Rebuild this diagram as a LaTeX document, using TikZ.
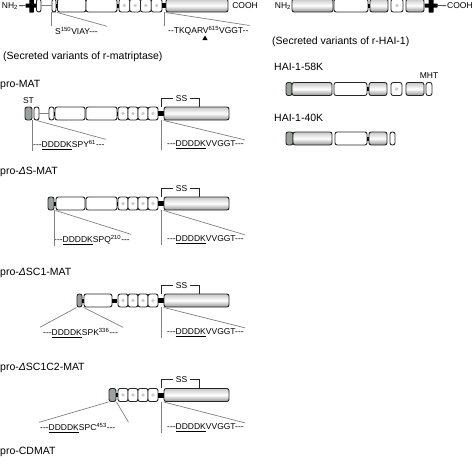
\documentclass[tikz,border=0pt]{standalone}
\usepackage{fontspec}
\setmainfont{Liberation Sans}
\usetikzlibrary{positioning, shapes.geometric}
\definecolor{tagcol}{HTML}{98A39A}
\definecolor{pointercol}{HTML}{808080}
\tikzset{
every node/.style = {font = \fontsize{8.5}{10}\selectfont, inner sep = 1pt},
dombox/.style = {rectangle, draw = black!85, rounded corners = 2.2pt, line width = 0.9pt, 
	inner sep = 0pt, minimum height = 13pt, fill = white},
shadebox/.style = {rectangle, draw = black!85, rounded corners = 2.2pt, line width = 0.9pt, 
	inner sep = 0pt, minimum height = 13pt, top color = black!22, bottom color = black!42, 
	middle color = white},
ldlbox/.style = {dombox, minimum width = 10pt, path picture = {\fill [black!20] 
	([shift = {(-1.7pt, -1.7pt)}]path picture bounding box.center) rectangle 
	([shift = {(1.7pt, 1.7pt)}]path picture bounding box.center);}},
tagbox/.style = {dombox, fill = tagcol},
joint/.style = {rectangle, fill = black, inner sep = 0pt, minimum width = 2pt, 
	minimum height = 4pt},
tmbar/.style = {rectangle, fill = black, rounded corners = 0.5pt, inner sep = 0pt},
pointer/.style = {draw = pointercol, line width = 0.7pt},
linker/.style = {draw = pointercol, line width = 0.8pt},
bracket/.style = {draw = black!85, line width = 0.7pt},
heading/.style = {anchor = west, inner sep = 0pt, font = \fontsize{10.5}{12}\selectfont},
sequence/.style = {anchor = west, inner sep = 1pt},
sslabel/.style = {inner sep = 3pt},
cleave/.style = {regular polygon, regular polygon sides = 3, fill = black, 
	inner sep = 0pt, minimum size = 6pt}
}

\begin{document}
\begin{tikzpicture}[x = 1pt, y = -1pt]

\useasboundingbox (0, 0) rectangle (474, 474);

%% Membrane-bound matriptase
\node at (10, 6) (nh2L) {NH\textsubscript{2}};
\node at (31.5, 5.5) [tmbar, minimum width = 12pt, minimum height = 4pt] (tmLh) {};
\node at (31.5, 5.5) [tmbar, minimum width = 4.5pt, minimum height = 14pt] (tmLv) {};
\node at (38.75, 5.5) [dombox, minimum width = 4.5pt] (seaL) {};
\node at (54, 5.5) [dombox, minimum width = 4pt] (s2L) {};
\node at (56.75, 5.5) [joint, minimum width = 1.5pt] (jL1) {};
\node at (71.75, 5.5) [dombox, minimum width = 28.5pt] (cub1L) {};
\node at (101.5, 5.5) [dombox, minimum width = 31pt] (cub2L) {};
\node at (118, 5.5) [joint, minimum width = 2pt] (jL2) {};
\node at (124.4, 5.5) [ldlbox, minimum width = 10.75pt] (ldl1L) {};
\node at (135.1, 5.5) [ldlbox, minimum width = 10.75pt] (ldl2L) {};
\node at (145.9, 5.5) [ldlbox, minimum width = 10.75pt] (ldl3L) {};
\node at (156.6, 5.5) [ldlbox, minimum width = 10.75pt] (ldl4L) {};
\node at (164, 5.5) [joint, minimum width = 4pt, minimum height = 5pt] (jL3) {};
\node at (197, 5.5) [shadebox, minimum width = 62pt] (protL) {};
\node at (245, 6) (coohL) {COOH};
\draw [line width = 0.6pt] (nh2L) -- (tmLh);
\draw [linker] (seaL) -- (s2L);

% Cleavage sites
\node at (54, 31) [sequence] (seqS) {S\textsuperscript{150}VIAY-{}-{}-};
\draw [pointer] (s2L.south west) -- (s2L.south west |- seqS.north);
\draw [pointer] (cub1L.south west) -- ([xshift = 8pt]seqS.north east);
\node at (167, 31) [sequence] (seqT) {-{}-TKQARV\textsuperscript{615}VGGT-{}-};
\draw [pointer] (jL3 |- protL.south) -- (jL3 |- seqT.north);
\draw [pointer] (protL.south west) -- (seqT.north east);
\node at (205, 38.5) [cleave] (cut) {};

%% Membrane-bound HAI-1
\node at (283, 6) (nh2R) {NH\textsubscript{2}};
\node at (312.5, 5.5) [shadebox, minimum width = 41pt] (h1R) {};
\node at (351, 5.5) [dombox, minimum width = 34pt] (h2R) {};
\node at (369, 5.5) [joint] (jR1) {};
\node at (379, 5.5) [shadebox, minimum width = 18pt] (h3R) {};
\node at (397, 5.5) [ldlbox, minimum width = 12pt] (h4R) {};
\node at (415, 5.5) [shadebox, minimum width = 18pt] (h5R) {};
\node at (431, 5.5) [tmbar, minimum width = 13pt, minimum height = 4pt] (tmRh) {};
\node at (431, 5.5) [tmbar, minimum width = 5pt, minimum height = 14pt] (tmRv) {};
\node at (446, 6) [anchor = west] (coohR) {COOH};
\draw [line width = 0.6pt] (tmRh) -- (coohR);

%% Headings
\node at (3, 57) [heading] (headMAT) {(Secreted variants of r-matriptase)};
\node at (272, 42) [heading] (headHAI) {(Secreted variants of r-HAI-1)};
\node at (0, 85) [heading] (nameA) {pro-MAT};
\node at (0, 172) [heading] (nameB) {pro-{\itshape Δ}S-MAT};
\node at (0, 273) [heading] (nameC) {pro-{\itshape Δ}SC1-MAT};
\node at (0, 368) [heading] (nameD) {pro-{\itshape Δ}SC1C2-MAT};
\node at (0, 452) [heading] (nameE) {pro-CDMAT};
\node at (274, 67) [heading] (name58) {HAI-1-58K};
\node at (274, 118) [heading] (name40) {HAI-1-40K};

%% pro-MAT
\node at (28.5, 113.5) [tagbox, minimum width = 7pt] (stA) {};
\node [above = 1.5pt of stA] (stlabel) {ST};
\node at (36.5, 113.5) [dombox, minimum width = 5pt] (s1A) {};
\node at (51.5, 113.5) [dombox, minimum width = 5pt] (s2A) {};
\node at (54.75, 113.5) [joint, minimum width = 1.5pt] (jA1) {};
\node at (70, 113.5) [dombox, minimum width = 30pt] (c1A) {};
\node at (101.5, 113.5) [dombox, minimum width = 31pt] (c2A) {};
\node at (117.5, 113.5) [joint, minimum width = 1.5pt] (jA2) {};
\node at (123, 113.5) [ldlbox] (lA1) {};
\node at (133, 113.5) [ldlbox] (lA2) {};
\node at (143, 113.5) [ldlbox] (lA3) {};
\node at (153, 113.5) [ldlbox] (lA4) {};
\node at (161, 113.5) [joint, minimum width = 6pt, minimum height = 5pt] (jA3) {};
\node at (196.5, 113.5) [shadebox, minimum width = 65pt] (prA) {};
\draw [linker] (s1A) -- (s2A);
\node at (181.5, 98.5) [sslabel] (ssA) {SS};
\draw [bracket] (jA3 |- prA.north) |- (ssA.west);
\draw [bracket] (ssA.east) -| ([xshift = 36pt]prA.north west);
\node at (32, 145) [sequence] (seqA1) {-{}-{}-\underline{DDDDK}SPY\textsuperscript{61}-{}-{}-};
\draw [pointer] (stA.south east) -- (stA.south east |- seqA1.south);
\draw [pointer] (s1A.south) -- (seqA1.north east);
\node at (166, 145) [sequence] (seqA2) {-{}-{}-\underline{DDDDK}VVGGT-{}-{}-};
\draw [pointer] (jA3 |- prA.south) -- (jA3 |- seqA2.south);
\draw [pointer] (prA.south west) -- (seqA2.north east);

%% pro-dS-MAT
\node at (51, 203.5) [tagbox, minimum width = 6pt] (stB) {};
\node at (55, 203.5) [joint] (jB1) {};
\node at (70.5, 203.5) [dombox, minimum width = 29pt] (c1B) {};
\node at (101.5, 203.5) [dombox, minimum width = 31pt] (c2B) {};
\node at (117.5, 203.5) [joint, minimum width = 1.5pt] (jB2) {};
\node at (123, 203.5) [ldlbox] (lB1) {};
\node at (133, 203.5) [ldlbox] (lB2) {};
\node at (143, 203.5) [ldlbox] (lB3) {};
\node at (153, 203.5) [ldlbox] (lB4) {};
\node at (161, 203.5) [joint, minimum width = 6pt, minimum height = 5pt] (jB3) {};
\node at (196.5, 203.5) [shadebox, minimum width = 65pt] (prB) {};
\node at (181.5, 188.5) [sslabel] (ssB) {SS};
\draw [bracket] (jB3 |- prB.north) |- (ssB.west);
\draw [bracket] (ssB.east) -| ([xshift = 36pt]prB.north west);
\node at (53, 240) [sequence] (seqB1) {-{}-{}-\underline{DDDDK}SPQ\textsuperscript{210}-{}-{}-};
\draw [pointer] (stB.south east) -- (stB.south east |- seqB1.south);
\draw [pointer] (c1B.south west) -- (seqB1.north east);
\node at (166, 240) [sequence] (seqB2) {-{}-{}-\underline{DDDDK}VVGGT-{}-{}-};
\draw [pointer] (jB3 |- prB.south) -- (jB3 |- seqB2.south);
\draw [pointer] (prB.south west) -- (seqB2.north east);

%% pro-dSC1-MAT
\node at (79.5, 300.5) [tagbox, minimum width = 5pt] (stC) {};
\node at (83, 300.5) [joint] (jC1) {};
\node at (98, 300.5) [dombox, minimum width = 28pt] (c2C) {};
\node at (114.5, 300.5) [joint, minimum width = 5pt] (jC2) {};
\node at (123, 300.5) [ldlbox] (lC1) {};
\node at (133, 300.5) [ldlbox] (lC2) {};
\node at (143, 300.5) [ldlbox] (lC3) {};
\node at (153, 300.5) [ldlbox] (lC4) {};
\node at (161, 300.5) [joint, minimum width = 6pt, minimum height = 5pt] (jC3) {};
\node at (196.5, 300.5) [shadebox, minimum width = 65pt] (prC) {};
\node at (181.5, 285.5) [sslabel] (ssC) {SS};
\draw [bracket] (jC3 |- prC.north) |- (ssC.west);
\draw [bracket] (ssC.east) -| ([xshift = 36pt]prC.north west);
\node at (42, 333) [sequence] (seqC1) {-{}-{}-\underline{DDDDK}SPK\textsuperscript{336}-{}-{}-};
\draw [pointer] (stC.south west) -- ([xshift = -2pt]seqC1.north west);
\draw [pointer] (c2C.south west) -- ([xshift = 4pt]seqC1.north east);
\node at (166, 333) [sequence] (seqC2) {-{}-{}-\underline{DDDDK}VVGGT-{}-{}-};
\draw [pointer] (jC3 |- prC.south) -- (jC3 |- seqC2.south);
\draw [pointer] (prC.south west) -- (seqC2.north east);

%% pro-dSC1C2-MAT
\node at (112.5, 395) [tagbox, minimum width = 7pt] (stD) {};
\node at (117, 395) [joint] (jD1) {};
\node at (123, 395) [ldlbox] (lD1) {};
\node at (133, 395) [ldlbox] (lD2) {};
\node at (143, 395) [ldlbox] (lD3) {};
\node at (153, 395) [ldlbox] (lD4) {};
\node at (161, 395) [joint, minimum width = 6pt, minimum height = 5pt] (jD3) {};
\node at (196.5, 395) [shadebox, minimum width = 65pt] (prD) {};
\node at (181.5, 379.5) [sslabel] (ssD) {SS};
\draw [bracket] (jD3 |- prD.north) |- (ssD.west);
\draw [bracket] (ssD.east) -| ([xshift = 36pt]prD.north west);
\node at (39, 428) [sequence] (seqD1) {-{}-{}-\underline{DDDDK}SPC\textsuperscript{453}-{}-{}-};
\draw [pointer] (stD.south west) -- (seqD1.north west);
\draw [pointer] (stD.south east) -- ([xshift = 12pt]seqD1.north east);
\node at (166, 428) [sequence] (seqD2) {-{}-{}-\underline{DDDDK}VVGGT-{}-{}-};
\draw [pointer] (jD3 |- prD.south) -- (jD3 |- seqD2.south);
\draw [pointer] (prD.south west) -- (seqD2.north east);

%% HAI-1-58K
\node at (289, 89) [tagbox, minimum width = 6pt] (g58) {};
\node at (312, 89) [shadebox, minimum width = 40pt] (a58) {};
\node at (350.5, 89) [dombox, minimum width = 33pt] (b58) {};
\node at (368, 89) [joint] (j58) {};
\node at (378, 89) [shadebox, minimum width = 18pt] (c58) {};
\node at (396.5, 89) [ldlbox, minimum width = 11pt] (d58) {};
\node at (415, 89) [shadebox, minimum width = 18pt] (e58) {};
\node at (429, 89) [dombox, minimum width = 6pt] (f58) {};
\node [above = 2.5pt of f58] (mht) {MHT};

%% HAI-1-40K
\node at (289.5, 138.5) [tagbox, minimum width = 7pt] (g40) {};
\node at (312.5, 138.5) [shadebox, minimum width = 39pt] (a40) {};
\node at (351, 138.5) [dombox, minimum width = 32pt] (b40) {};
\node at (368, 138.5) [joint] (j40) {};
\node at (378, 138.5) [shadebox, minimum width = 18pt] (c40) {};
\node at (392.5, 138.5) [dombox, minimum width = 5pt] (f40) {};

\end{tikzpicture}
\end{document}
